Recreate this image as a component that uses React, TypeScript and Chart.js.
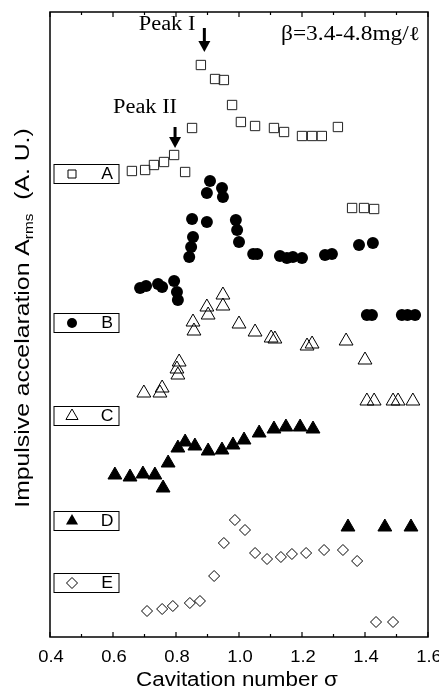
import { useEffect, useRef } from 'react';
import { Chart, registerables } from 'chart.js';

Chart.register(...registerables);

// ---- data (cavitation number sigma vs offset impulsive acceleration, A.U.) ----
const sigmaA = [0.660, 0.702, 0.730, 0.762, 0.794, 0.829, 0.851, 0.879, 0.924, 0.952, 0.978, 1.006, 1.051, 1.111, 1.143, 1.200, 1.232, 1.263, 1.314, 1.359, 1.397, 1.429];
const ampA = [466, 467, 472, 475, 482, 465, 509, 572, 558, 557, 532, 515, 511, 509, 505, 501, 501, 501, 510, 429, 429, 428];

const sigmaB = [0.686, 0.705, 0.743, 0.756, 0.794, 0.803, 0.806, 0.842, 0.848, 0.854, 0.851, 0.898, 0.898, 0.908, 0.946, 0.949, 0.990, 0.994, 1.000, 1.045, 1.058, 1.130, 1.152, 1.171, 1.200, 1.273, 1.295, 1.381, 1.425, 1.406, 1.422, 1.517, 1.535, 1.559];
const ampB = [349, 351, 353, 350, 356, 345, 337, 380, 390, 400, 418, 415, 444, 456, 449, 440, 417, 407, 395, 383, 383, 381, 379, 380, 379, 382, 383, 392, 394, 322, 322, 322, 322, 322];

const sigmaC = [0.698, 0.749, 0.756, 0.803, 0.806, 0.810, 0.854, 0.857, 0.898, 0.902, 0.949, 0.949, 1.000, 1.051, 1.102, 1.114, 1.216, 1.232, 1.340, 1.400, 1.406, 1.429, 1.489, 1.505, 1.552];
const ampC = [244, 244, 249, 268, 262, 275, 315, 306, 330, 322, 342, 331, 313, 305, 299, 298, 291, 293, 296, 277, 236, 236, 236, 236, 236];

const sigmaD = [0.606, 0.654, 0.695, 0.733, 0.759, 0.775, 0.806, 0.829, 0.860, 0.902, 0.946, 0.981, 1.016, 1.064, 1.111, 1.149, 1.194, 1.235, 1.346, 1.463, 1.546];
const ampD = [162, 160, 163, 162, 149, 174, 189, 195, 191, 186, 187, 192, 197, 204, 208, 210, 210, 208, 110, 110, 110];

const sigmaE = [0.708, 0.756, 0.790, 0.844, 0.876, 0.921, 0.952, 0.987, 1.019, 1.051, 1.089, 1.133, 1.168, 1.213, 1.270, 1.330, 1.375, 1.435, 1.489];
const ampE = [26, 28, 31, 34, 36, 61, 94, 117, 107, 84, 78, 80, 83, 84, 87, 87, 76, 15, 15];

const seriesLabels = ['A', 'B', 'C', 'D', 'E'];
const legendLevels = [463, 314, 221, 116, 54];
const xMajorTicks = [0.4, 0.6, 0.8, 1.0, 1.2, 1.4, 1.6];
const xMinorTicks = [0.5, 0.7, 0.9, 1.1, 1.3, 1.5];
const xTitle = 'Cavitation number σ';
const yTitleMain = 'Impulsive accelaration A';
const yTitleSub = 'rms';
const yTitleEnd = '  (A. U.)';
const concText = 'β=3.4-4.8mg/ℓ';

const pts = (xs: number[], ys: number[]) => xs.map((x, i) => ({ x, y: ys[i] }));

type Sym = 'square' | 'circle' | 'tri' | 'triFill' | 'diamond';
const legendSyms: Sym[] = ['square', 'circle', 'tri', 'triFill', 'diamond'];

function drawSym(ctx: CanvasRenderingContext2D, s: Sym, x: number, y: number) {
  ctx.save();
  ctx.lineWidth = 1;
  ctx.strokeStyle = '#000';
  ctx.fillStyle = '#000';
  ctx.beginPath();
  if (s === 'square') {
    ctx.rect(x - 4, y - 4, 8, 8);
    ctx.stroke();
  } else if (s === 'circle') {
    ctx.arc(x, y, 5, 0, Math.PI * 2);
    ctx.fill();
  } else if (s === 'tri' || s === 'triFill') {
    const r = 7;
    ctx.moveTo(x, y - r);
    ctx.lineTo(x + r * 0.866, y + r * 0.5);
    ctx.lineTo(x - r * 0.866, y + r * 0.5);
    ctx.closePath();
    if (s === 'triFill') ctx.fill(); else ctx.stroke();
  } else {
    const r = 5.5;
    ctx.moveTo(x - r, y);
    ctx.lineTo(x, y - r);
    ctx.lineTo(x + r, y);
    ctx.lineTo(x, y + r);
    ctx.closePath();
    ctx.stroke();
  }
  ctx.restore();
}

function stretchText(ctx: CanvasRenderingContext2D, t: string, x: number, y: number, sx: number, align: 'left' | 'center' | 'right') {
  const w = ctx.measureText(t).width * sx;
  let left = x;
  if (align === 'center') left = x - w / 2;
  if (align === 'right') left = x - w;
  ctx.save();
  ctx.translate(left, y);
  ctx.scale(sx, 1);
  ctx.textAlign = 'left';
  ctx.fillText(t, 0, 0);
  ctx.restore();
}

function arrow(ctx: CanvasRenderingContext2D, x: number, yTop: number, yTip: number) {
  ctx.save();
  ctx.strokeStyle = '#000';
  ctx.fillStyle = '#000';
  ctx.lineWidth = 3;
  ctx.beginPath();
  ctx.moveTo(x, yTop);
  ctx.lineTo(x, yTip - 9);
  ctx.stroke();
  ctx.beginPath();
  ctx.moveTo(x - 6, yTip - 11);
  ctx.lineTo(x + 6, yTip - 11);
  ctx.lineTo(x, yTip);
  ctx.closePath();
  ctx.fill();
  ctx.restore();
}

const decor = {
  id: 'decor',
  afterDraw(chart: any) {
    const { ctx, chartArea: ca, scales } = chart;
    const xs = scales.x;
    const ys = scales.y;
    ctx.save();
    // frame
    ctx.strokeStyle = '#000';
    ctx.lineWidth = 1.5;
    ctx.strokeRect(ca.left, ca.top, ca.right - ca.left, ca.bottom - ca.top);
    // inward ticks
    ctx.lineWidth = 1.2;
    const tick = (v: number, len: number) => {
      const px = xs.getPixelForValue(v);
      ctx.beginPath();
      ctx.moveTo(px, ca.bottom);
      ctx.lineTo(px, ca.bottom - len);
      ctx.moveTo(px, ca.top);
      ctx.lineTo(px, ca.top + len);
      ctx.stroke();
    };
    xMajorTicks.forEach((v) => tick(v, 5));
    xMinorTicks.forEach((v) => tick(v, 3));
    // tick labels
    ctx.fillStyle = '#000';
    ctx.font = '16px "Liberation Sans", Arial, sans-serif';
    ctx.textBaseline = 'middle';
    xMajorTicks.forEach((v) => {
      stretchText(ctx, v.toFixed(1), xs.getPixelForValue(v) + 1, ca.bottom + 21, 1.15, 'center');
    });
    // x title
    ctx.font = '20px "Liberation Sans", Arial, sans-serif';
    ctx.textBaseline = 'alphabetic';
    stretchText(ctx, xTitle, (ca.left + ca.right) / 2 - 2, ca.bottom + 49, 1.12, 'center');
    // y title (rotated, with subscript)
    const mainFont = '21px "Liberation Sans", Arial, sans-serif';
    const subFont = '13px "Liberation Sans", Arial, sans-serif';
    const sy = 1.18;
    ctx.font = mainFont;
    const w1 = ctx.measureText(yTitleMain).width;
    const w3 = ctx.measureText(yTitleEnd).width;
    ctx.font = subFont;
    const w2 = ctx.measureText(yTitleSub).width;
    const total = (w1 + w2 + w3) * sy;
    ctx.save();
    ctx.translate(ca.left - 27, 318);
    ctx.rotate(-Math.PI / 2);
    ctx.translate(-total / 2, 0);
    ctx.scale(sy, 1);
    ctx.textBaseline = 'middle';
    ctx.textAlign = 'left';
    ctx.font = mainFont;
    ctx.fillText(yTitleMain, 0, 0);
    ctx.font = subFont;
    ctx.fillText(yTitleSub, w1, 6);
    ctx.font = mainFont;
    ctx.fillText(yTitleEnd, w1 + w2, 0);
    ctx.restore();
    // legend boxes
    seriesLabels.forEach((lab, i) => {
      const cy = ys.getPixelForValue(legendLevels[i]);
      const bx = ca.left + 4;
      ctx.save();
      ctx.fillStyle = '#fff';
      ctx.fillRect(bx, cy - 9.5, 65, 19);
      ctx.strokeStyle = '#000';
      ctx.lineWidth = 1;
      ctx.strokeRect(bx, cy - 9.5, 65, 19);
      ctx.restore();
      drawSym(ctx, legendSyms[i], bx + 18, cy);
      ctx.fillStyle = '#000';
      ctx.font = '16px "Liberation Sans", Arial, sans-serif';
      ctx.textBaseline = 'middle';
      stretchText(ctx, lab, bx + 53, cy + 1, 1.1, 'center');
    });
    // annotations
    const p1x = xs.getPixelForValue(0.89);
    arrow(ctx, p1x, ys.getPixelForValue(609), ys.getPixelForValue(585));
    ctx.font = '20px "Liberation Serif", "Times New Roman", serif';
    ctx.textBaseline = 'middle';
    ctx.fillStyle = '#000';
    stretchText(ctx, 'Peak I', p1x - 9, ys.getPixelForValue(612), 1.12, 'right');
    const p2x = xs.getPixelForValue(0.797);
    arrow(ctx, p2x, ys.getPixelForValue(510), ys.getPixelForValue(489));
    stretchText(ctx, 'Peak II', p2x + 2, ys.getPixelForValue(529), 1.12, 'right');
    stretchText(ctx, concText, ca.right - 8, ys.getPixelForValue(602), 1.17, 'right');
    ctx.restore();
  },
};

export default function App() {
  const ref = useRef<HTMLCanvasElement | null>(null);
  useEffect(() => {
    if (!ref.current) return;
    const open = 'rgba(255,255,255,0)';
    const chart = new Chart(ref.current, {
      type: 'scatter',
      data: {
        datasets: [
          { label: 'A', data: pts(sigmaA, ampA), pointStyle: 'rect', pointRadius: 6.6, backgroundColor: open, borderColor: '#222', borderWidth: 1 },
          { label: 'B', data: pts(sigmaB, ampB), pointStyle: 'circle', pointRadius: 6, backgroundColor: '#000', borderColor: '#000', borderWidth: 0 },
          { label: 'C', data: pts(sigmaC, ampC), pointStyle: 'triangle', pointRadius: 8, backgroundColor: open, borderColor: '#000', borderWidth: 1 },
          { label: 'D', data: pts(sigmaD, ampD), pointStyle: 'triangle', pointRadius: 8, backgroundColor: '#000', borderColor: '#000', borderWidth: 1 },
          { label: 'E', data: pts(sigmaE, ampE), pointStyle: 'rectRot', pointRadius: 5.5, backgroundColor: open, borderColor: '#000', borderWidth: 1 },
        ],
      },
      options: {
        animation: false,
        responsive: false,
        layout: { padding: { left: 50, right: 11, top: 12, bottom: 52 } },
        plugins: { legend: { display: false }, tooltip: { enabled: false } },
        scales: {
          x: { type: 'linear', min: 0.4, max: 1.6, display: false },
          y: { type: 'linear', min: 0, max: 625, display: false },
        },
        elements: { point: { hoverRadius: 6 } },
      },
      plugins: [decor],
    });
    return () => chart.destroy();
  }, []);
  return (
    <div style={{ position: 'fixed', left: 0, top: 0, width: 439, height: 689, background: '#fff' }}>
      <canvas ref={ref} width={439} height={689} style={{ display: 'block' }} />
    </div>
  );
}
